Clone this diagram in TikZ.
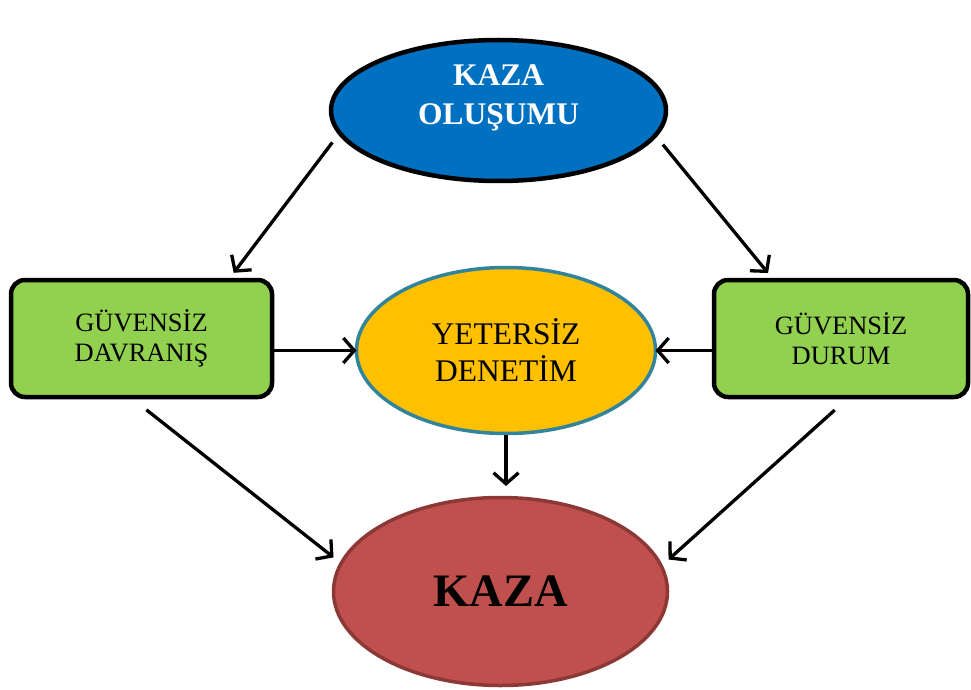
\documentclass[tikz,border=0pt]{standalone}
\usepackage{fontspec}
\setmainfont{Liberation Serif}
\usepackage{tikz}
\usetikzlibrary{arrows.meta,shapes.geometric}
\definecolor{olusumblue}{HTML}{0070C0}
\definecolor{causegreen}{HTML}{92D050}
\definecolor{denetimyellow}{HTML}{FFC000}
\definecolor{denetimteal}{HTML}{31849B}
\definecolor{kazared}{HTML}{C0504D}
\definecolor{kazadark}{HTML}{8C3836}

\begin{document}
\begin{tikzpicture}[
    x=1pt,y=-1pt,
    bubble/.style={ellipse,inner sep=0pt,outer sep=0pt,align=center},
    cause/.style={draw=black,line width=4.5pt,fill=causegreen,rounded corners=14pt,
      minimum width=261pt,minimum height=117pt,inner sep=0pt,outer sep=0pt,
      align=center,font=\fontsize{26.5}{30}\selectfont},
    flow/.style={-{Straight Barb[length=11pt,width=25pt]},line width=3.3pt}
  ]
    \useasboundingbox (0,0) rectangle (971,690);

    \node[bubble,draw=black,line width=4.5pt,fill=olusumblue,
      minimum width=335pt,minimum height=141pt] (olusum) at (498.5,110.5) {};
    \node[align=center,text=white,font=\bfseries\fontsize{31.5}{38.5}\selectfont]
      (olusumtxt) at (498.5,98) {KAZA\\OLUŞUMU};

    \node[cause] (davranis) at (141.5,338.5) {GÜVENSİZ\\DAVRANIŞ};
    \node[cause,minimum width=254pt] (durum) at (841,338.5) {GÜVENSİZ\\DURUM};

    \node[bubble,draw=denetimteal,line width=3.5pt,fill=denetimyellow,
      minimum width=299pt,minimum height=166pt,
      font=\fontsize{31.5}{37}\selectfont] (denetim) at (506,350.5) {YETERSİZ\\DENETİM};

    \node[bubble,draw=kazadark,line width=3.5pt,fill=kazared,
      minimum width=334pt,minimum height=188pt,
      font=\bfseries\fontsize{46.5}{50}\selectfont] (kaza) at (500.5,591.5) {KAZA};

    \draw[flow,shorten <=12pt,shorten >=9pt] (olusum.188.7) -- (davranis.34);
    \draw[flow,shorten <=12pt,shorten >=9pt] (olusum.351.3) -- (durum.139.5);
    \draw[flow] (denetim.west -| davranis.east) -- (denetim.west);
    \draw[flow] (denetim.east -| durum.west) -- (denetim.east);
    \draw[flow,shorten <=1pt,shorten >=11.5pt] (denetim.south) -- (denetim.south |- kaza.north);
    \draw[flow,shorten <=20.7pt,shorten >=9.7pt] (davranis.259.7) -- (kaza.170.8);
    \draw[flow,shorten <=19.5pt,shorten >=9.8pt] (durum.278.4) -- (kaza.9.1);
\end{tikzpicture}
\end{document}
